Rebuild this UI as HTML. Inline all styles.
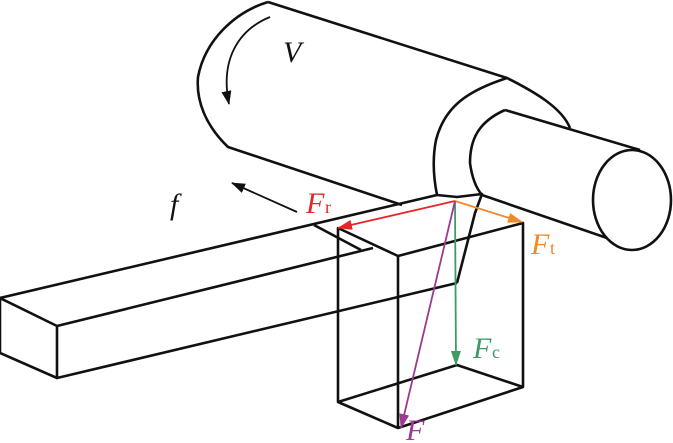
<!DOCTYPE html>
<html><head><meta charset="utf-8"><style>
html,body{margin:0;padding:0;background:#fff;}
svg{display:block;}
text{font-family:"Liberation Serif",serif;}
</style></head><body>
<svg width="673" height="443" viewBox="0 0 673 443" xmlns="http://www.w3.org/2000/svg">
<defs>
<marker id="ak" markerWidth="14" markerHeight="10" refX="13" refY="5" orient="auto" markerUnits="userSpaceOnUse"><path d="M0,0 L14,5 L0,10 z" fill="#111"/></marker>
<marker id="ar" markerWidth="15" markerHeight="10" refX="14" refY="5" orient="auto" markerUnits="userSpaceOnUse"><path d="M0,0 L15,5 L0,10 z" fill="#e8262a"/></marker>
<marker id="ao" markerWidth="15" markerHeight="10" refX="14" refY="5" orient="auto" markerUnits="userSpaceOnUse"><path d="M0,0 L15,5 L0,10 z" fill="#f0892a"/></marker>
<marker id="ag" markerWidth="15" markerHeight="10" refX="14" refY="5" orient="auto" markerUnits="userSpaceOnUse"><path d="M0,0 L15,5 L0,10 z" fill="#3f9a64"/></marker>
<marker id="ap" markerWidth="15" markerHeight="10" refX="14" refY="5" orient="auto" markerUnits="userSpaceOnUse"><path d="M0,0 L15,5 L0,10 z" fill="#9b3a8f"/></marker>
</defs>
<g fill="none" stroke="#111" stroke-width="2.6" stroke-linejoin="round">
<path d="M268,2 C235,12 205,40 198,77 C196,100 205,125 228,147 L402,205"/>
<path d="M268,2 L507,78 C535,92 562,108 570,128"/>
<path d="M507,78 C470,90 445,105 436,140 C432,160 434,180 437,195"/>
<path d="M505,110 C478,122 470,140 470,163 C472,178 476,188 482,195"/>
<path d="M505,110 L640,150"/>
<path d="M482,195 L607,238"/>
<ellipse cx="632" cy="200" rx="39" ry="50"/>
<path d="M437,195 L457,197 L482,194 L475,213 L457,283"/>
<path d="M0,298 L437,195"/>
<path d="M57,326 L373,248"/>
<path d="M57,378 L457,283"/>
<path d="M0,298 L57,326 L57,378 L0,353 Z"/>
<path d="M314,225 L361,250"/>
<path d="M338,228 L398,256 L523,223 L523,387 L398,428 L338,402 Z"/>
<path d="M398,256 L398,428"/>
<path d="M338,402 L457,365 L523,387"/>
</g>
<path d="M270,17 C238,30 220,60 229,104" fill="none" stroke="#111" stroke-width="1.8" marker-end="url(#ak)"/>
<line x1="297" y1="212" x2="232" y2="183" stroke="#111" stroke-width="1.8" marker-end="url(#ak)"/>
<line x1="455" y1="201" x2="338" y2="228" stroke="#e8262a" stroke-width="1.8" marker-end="url(#ar)"/>
<line x1="455" y1="201" x2="522" y2="222" stroke="#f0892a" stroke-width="1.8" marker-end="url(#ao)"/>
<line x1="455" y1="201" x2="456" y2="365" stroke="#3f9a64" stroke-width="1.8" marker-end="url(#ag)"/>
<line x1="455" y1="201" x2="401" y2="428" stroke="#9b3a8f" stroke-width="1.8" marker-end="url(#ap)"/>
<text x="283" y="62" font-size="30" font-style="italic" fill="#111">V</text>
<text x="170" y="214" font-size="30" font-style="italic" fill="#111">f</text>
<text x="306" y="213" font-size="30" font-style="italic" fill="#e8262a">F</text><text x="325" y="213" font-size="18" fill="#e8262a">r</text>
<text x="531" y="254" font-size="30" font-style="italic" fill="#f0892a">F</text><text x="550" y="254" font-size="18" fill="#f0892a">t</text>
<text x="473" y="358" font-size="30" font-style="italic" fill="#3f9a64">F</text><text x="492" y="358" font-size="18" fill="#3f9a64">c</text>
<text x="406" y="440" font-size="30" font-style="italic" fill="#9b3a8f">F</text>
</svg>
</body></html>
